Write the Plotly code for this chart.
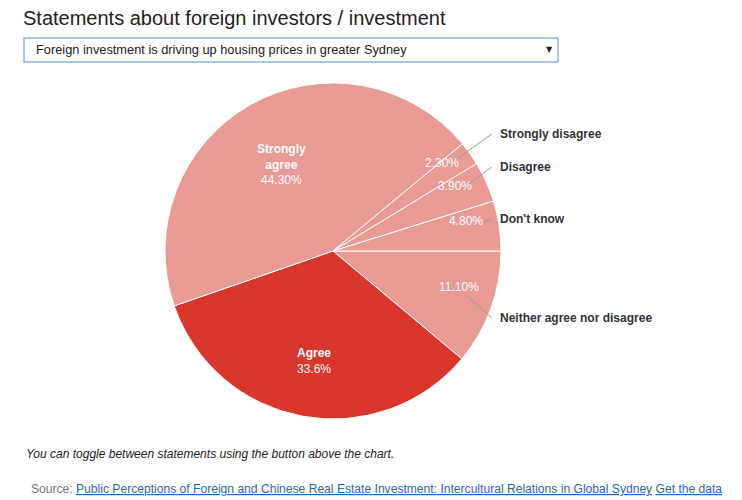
import math
import plotly.graph_objects as go

# Réponses à l'énoncé sélectionné (en %), dans le sens horaire depuis 3 h
reponses = ['Neither agree nor disagree', 'Agree', 'Strongly agree',
            'Strongly disagree', 'Disagree', "Don't know"]
pourcentages = [11.1, 33.6, 44.3, 2.3, 3.9, 4.8]
textes_pct = ['11.10%', '33.6%', '44.30%', '2.30%', '3.90%', '4.80%']

ROSE = '#e99a94'
ROUGE = '#d9372b'
couleurs = [ROUGE if r == 'Agree' else ROSE for r in reponses]

# la page a une marge de 8 px autour de la figure
OFF = 8
W, H = 742 - OFF, 500 - OFF
cx, cy, R = 333, 251, 168          # centre et rayon du camembert (pixels page)
rotation = 90
POLICE = 'Liberation Sans, Arial'


def px2paper(x, y):
    return (x - OFF) / W, 1 - (y - OFF) / H


x0, y1 = px2paper(cx - R, cy - R)
x1, y0 = px2paper(cx + R, cy + R)
fig = go.Figure(go.Pie(
    labels=reponses, values=pourcentages,
    textinfo='none', sort=False, direction='clockwise', rotation=rotation,
    marker=dict(colors=couleurs, line=dict(color='white', width=1)),
    domain=dict(x=[x0, x1], y=[y0, y1]),
    showlegend=False, hoverinfo='label+percent',
))

# étiquettes : grosses parts dedans, petites parts dehors avec un trait
label_y = {'Strongly disagree': 134, 'Disagree': 167, "Don't know": 219,
           'Neither agree nor disagree': 318}
cumul = 0
for r, p, t in zip(reponses, pourcentages, textes_pct):
    milieu = math.radians(rotation + (cumul + p / 2) * 3.6)
    cumul += p
    sx, sy = math.sin(milieu), -math.cos(milieu)
    if r not in label_y:
        tx, ty = cx + 0.63 * R * sx, cy + 0.63 * R * sy + 6
        texte = '<b>' + r.replace(' ', '<br>') + '</b><br>' + t
    else:
        tx, ty = cx + 0.8 * R * sx, cy + 0.8 * R * sy - 10
        texte = t
        ax0, ay0 = px2paper(cx + 0.85 * R * sx, cy + 0.85 * R * sy - 4)
        ax1, ay1 = px2paper(492, label_y[r])
        fig.add_shape(type='line', xref='paper', yref='paper',
                      x0=ax0, y0=ay0, x1=ax1, y1=ay1,
                      line=dict(color='#9a9a9a', width=1))
        x, y = px2paper(498, label_y[r])
        fig.add_annotation(x=x, y=y, text='<b>' + r + '</b>', showarrow=False,
                           xref='paper', yref='paper', xanchor='left', yanchor='middle',
                           font=dict(family=POLICE, size=12, color='#333'))
    x, y = px2paper(tx, ty)
    fig.add_annotation(x=x, y=y, text=texte, showarrow=False, xref='paper', yref='paper',
                       xanchor='center', yanchor='middle',
                       font=dict(family=POLICE, size=12, color='white'))

# titre
x, y = px2paper(22, 18)
fig.add_annotation(x=x, y=y, xref='paper', yref='paper', xanchor='left', yanchor='middle',
                   text='Statements about foreign investors / investment', showarrow=False,
                   borderpad=0, font=dict(family=POLICE, size=20, color='#222'))

# faux menu déroulant
bx0, by1 = px2paper(24, 38)
bx1, by0 = px2paper(558, 62)
fig.add_shape(type='rect', xref='paper', yref='paper', x0=bx0, x1=bx1, y0=by0, y1=by1,
              line=dict(color='#8fb1e3', width=1.5), fillcolor='white')
x, y = px2paper(34, 49)
fig.add_annotation(x=x, y=y, xref='paper', yref='paper', xanchor='left', yanchor='middle',
                   text='Foreign investment is driving up housing prices in greater Sydney',
                   showarrow=False, font=dict(family=POLICE, size=12.8, color='#222'))
x, y = px2paper(549, 49)
fig.add_annotation(x=x, y=y, xref='paper', yref='paper', xanchor='center', yanchor='middle',
                   text='▼', showarrow=False, font=dict(family='DejaVu Sans', size=8, color='#222'))

# notes en bas
x, y = px2paper(24, 454)
fig.add_annotation(x=x, y=y, xref='paper', yref='paper', xanchor='left', yanchor='middle',
                   text='<i>You can toggle between statements using the button above the chart.</i>',
                   showarrow=False, font=dict(family=POLICE, size=12, color='#222'))
lien = 'color:#1a6bbf;text-decoration:underline'
x, y = px2paper(29, 489)
fig.add_annotation(x=x, y=y, xref='paper', yref='paper', xanchor='left', yanchor='middle',
                   text='Source: <span style="' + lien + '">Public Perceptions of Foreign and Chinese Real Estate '
                        'Investment: Intercultural Relations in Global Sydney</span> '
                        '<span style="' + lien + '">Get the data</span>',
                   showarrow=False, font=dict(family=POLICE, size=12.1, color='#777'))

fig.update_layout(width=W, height=H, margin=dict(l=0, r=0, t=0, b=0),
                  paper_bgcolor='white', plot_bgcolor='white')

fig.write_html('out.html')
print('out.html généré')
